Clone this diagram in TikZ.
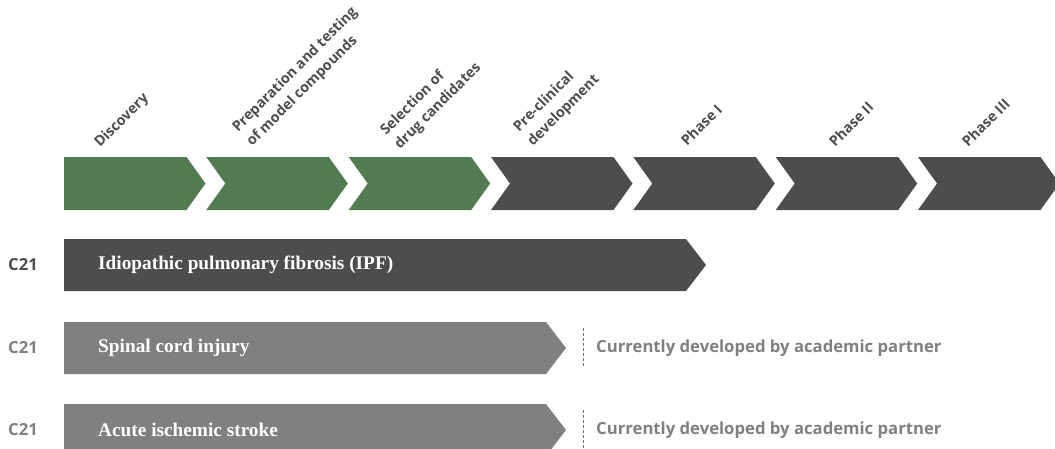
\documentclass[tikz,border=0pt]{standalone}
\usepackage{fontspec}
\setmainfont{Liberation Serif}
\setsansfont{Open Sans}
\definecolor{pgreen}{HTML}{527B52}
\definecolor{pdark}{HTML}{4D4D4D}
\definecolor{pmid}{HTML}{808080}
\definecolor{pdash}{HTML}{6E6E6E}
\newcommand{\hdrtwo}[2]{\vbox{\baselineskip=20pt\hbox{#1}\hbox{#2}}}
\begin{document}
\begin{tikzpicture}[x=1pt,y=-1pt,
  hdr/.style={font=\sffamily\bfseries\fontsize{14.3}{20}\selectfont, text=pdark, rotate=45, anchor=base west, inner sep=0pt},
  code/.style={font=\sffamily\bfseries\fontsize{16.6}{19}\selectfont, anchor=west, inner sep=0pt},
  bartext/.style={font=\rmfamily\bfseries\fontsize{19.3}{22}\selectfont, text=white, anchor=west, inner sep=0pt},
  note/.style={font=\sffamily\bfseries\fontsize{16.7}{19}\selectfont, text=pmid, anchor=west, inner sep=0pt},
  sep/.style={draw=pdash, line width=1pt, dash pattern=on 3pt off 2pt}]
\useasboundingbox (0,0) rectangle (1055,448);
\clip (0,0) rectangle (1055,448);
% stage chevrons
\fill[pgreen] (64,157) -- (186.5,157) -- (205.5,183.5) -- (186.5,210) -- (64,210) -- cycle;
\foreach \x/\c in {206.3/pgreen, 348.7/pgreen, 491/pdark, 633.3/pdark, 775.7/pdark, 918/pdark}{
  \fill[\c] (\x,157) -- (\x+122.5,157) -- (\x+141.5,183.5) -- (\x+122.5,210) -- (\x,210) -- (\x+19,183.5) -- cycle;
}
% stage labels
\node[hdr] (s1) at (100,148) {Discovery};
\node[hdr] (s2) at (252,147) {\hdrtwo{Preparation and testing}{of model compounds}};
\node[hdr] (s3) at (400,150) {\hdrtwo{Selection of}{drug candidates}};
\node[hdr] (s4) at (533,147) {\hdrtwo{Pre-clinical}{development}};
\node[hdr] (s5) at (687,147) {Phase I};
\node[hdr] (s6) at (835,148) {Phase II};
\node[hdr] (s7) at (968,148) {Phase III};
% programme bars
\fill[pdark] (64,239) -- (686,239) -- (706,265) -- (686,291) -- (64,291) -- cycle;
\fill[pmid] (64,322) -- (546,322) -- (566,348) -- (546,374) -- (64,374) -- cycle;
\fill[pmid] (64,404) -- (546,404) -- (566,430) -- (546,456) -- (64,456) -- cycle;
\node[code, text=pdark] (c1) at (8,265) {C21};
\node[code, text=pmid] (c2) at (8,348) {C21};
\node[code, text=pmid] (c3) at (8,430) {C21};
\node[bartext] (b1) at (98,265) {Idiopathic pulmonary fibrosis (IPF)};
\node[bartext] (b2) at (98,348) {Spinal cord injury};
\node[bartext] (b3) at (98,430) {Acute ischemic stroke};
% academic partner notes
\coordinate (d2t) at (583,328);
\coordinate (d2b) at (583,368);
\coordinate (d3t) at (583,410);
\coordinate (d3b) at (583,450);
\draw[sep] (d2t) -- (d2b);
\draw[sep] (d3t) -- (d3b);
\node[note] (n2) at (596,348) {Currently developed by academic partner};
\node[note] (n3) at (596,430) {Currently developed by academic partner};
\end{tikzpicture}
\end{document}
